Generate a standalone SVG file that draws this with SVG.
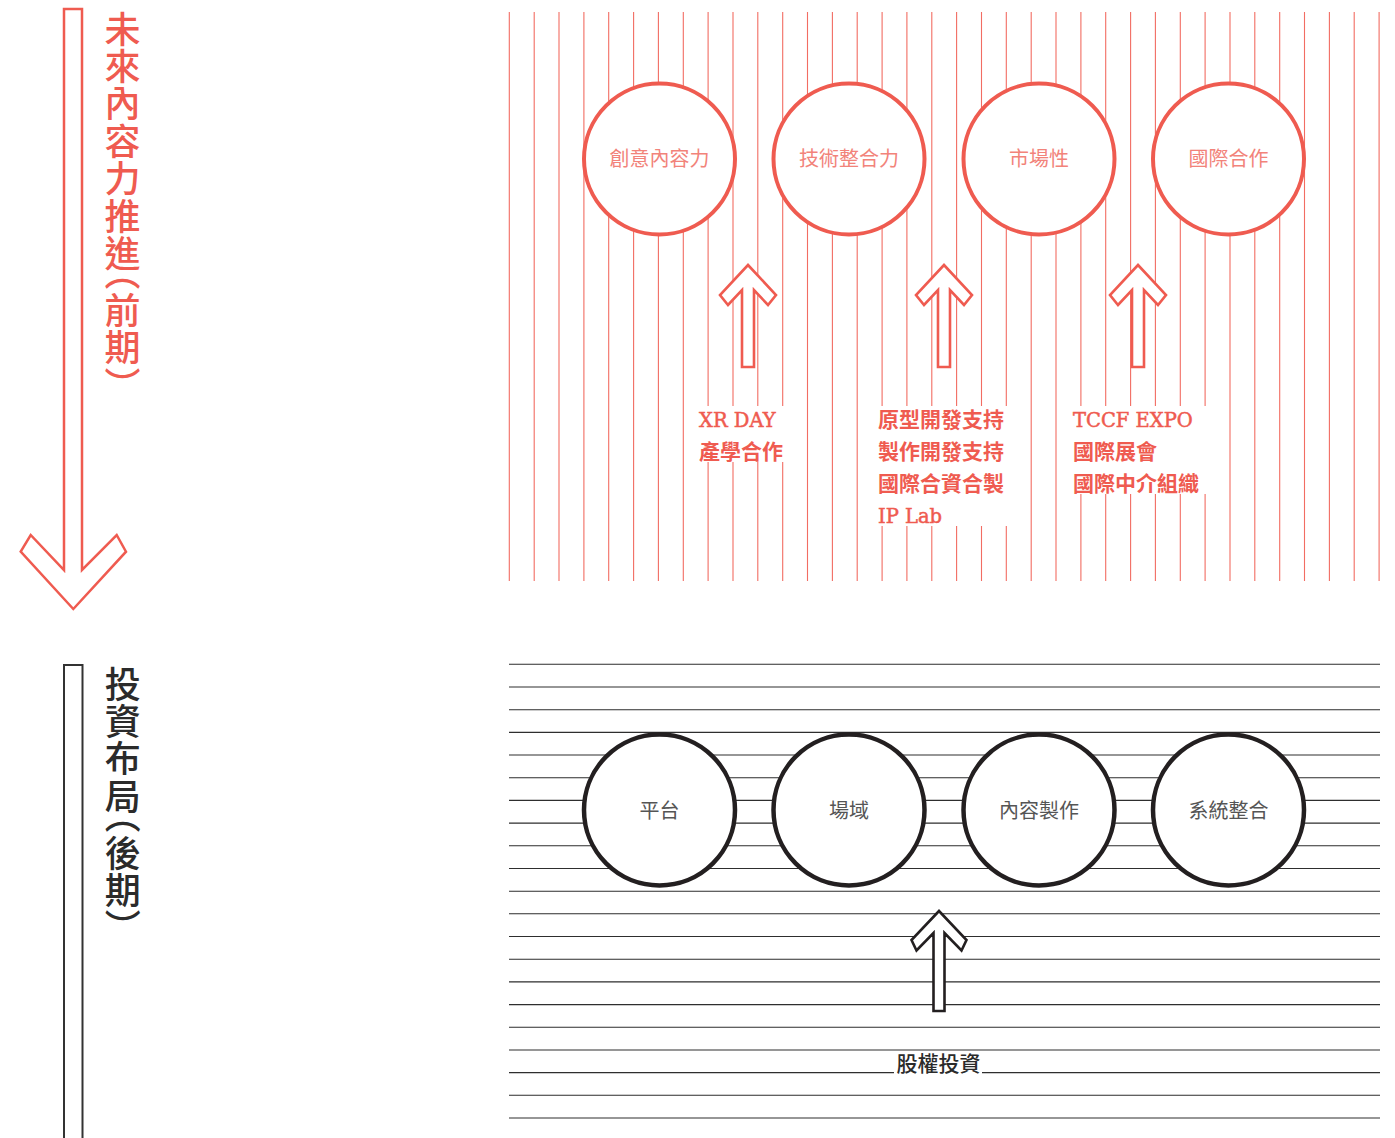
<svg xmlns="http://www.w3.org/2000/svg" xmlns:xlink="http://www.w3.org/1999/xlink" width="1395" height="1138" viewBox="0 0 1395 1138">
<style>
.vl{stroke:#f26d63;stroke-width:1.1;fill:none}
.hl{stroke:#2e2e2e;stroke-width:1.1;fill:none}
.rc{fill:#fff;stroke:#ef5b50;stroke-width:4}
.bc{fill:#fff;stroke:#231f20;stroke-width:4.5}
.rt{font-family:"Noto Sans CJK TC","Noto Sans",sans-serif;font-size:20px;fill:#f2837a;text-anchor:middle}
.bt{font-family:"Noto Sans CJK TC","Noto Sans",sans-serif;font-size:20px;fill:#555;text-anchor:middle}
.lat{font-family:"DejaVu Serif","Noto Sans CJK TC",serif;font-size:19.5px;fill:#ef5b50;stroke:#ef5b50;stroke-width:0.5px}
.zh{font-family:"Noto Sans CJK TC",sans-serif;font-size:21px;font-weight:bold;fill:#ef5b50}
.ra{fill:#fff;stroke:#ef5b50;stroke-width:2.6;stroke-linejoin:miter}
.ba{fill:#fff;stroke:#231f20;stroke-width:2.6;stroke-linejoin:miter}
.vt{font-family:"Noto Sans CJK TC",sans-serif;font-size:36px;font-weight:500;writing-mode:vertical-rl;font-feature-settings:"vhal" 1;letter-spacing:1.4px}
.box{fill:#fff}
</style>
<defs>
<path id="upR" d="M0 0L28 30L20 40L6 25L6 102L-6 102L-6 25L-20 40L-28 30Z"/>
<path id="upB" d="M0 0L27.5 29L22.5 39.5L5.5 22L5.5 100L-5.5 100L-5.5 22L-22.5 39.5L-27.5 29Z"/>
</defs>

<g id="background-lines">
<path class="vl" d="M509.3 12V581M534.2 12V581M559 12V581M583.9 12V581M608.7 12V581M633.6 12V581M658.4 12V581M683.3 12V581M708.1 12V581M733 12V581M757.8 12V581M782.7 12V581M807.5 12V581M832.4 12V581M857.2 12V581M882.1 12V581M906.9 12V581M931.8 12V581M956.6 12V581M981.5 12V581M1006.3 12V581M1031.2 12V581M1056 12V581M1080.9 12V581M1105.7 12V581M1130.6 12V581M1155.4 12V581M1180.3 12V581M1205.1 12V581M1230 12V581M1254.8 12V581M1279.7 12V581M1304.5 12V581M1329.4 12V581M1354.2 12V581M1379.1 12V581"/>
<path class="hl" d="M509 664.3H1380M509 687H1380M509 709.7H1380M509 732.4H1380M509 755H1380M509 777.7H1380M509 800.4H1380M509 823.1H1380M509 845.8H1380M509 868.5H1380M509 891.2H1380M509 913.8H1380M509 936.5H1380M509 959.2H1380M509 981.9H1380M509 1004.6H1380M509 1027.3H1380M509 1050H1380M509 1072.6H1380M509 1095.3H1380M509 1118H1380"/>
</g>

<g id="phase-front">
<polygon points="64,9 82,9 82,570 116.7,535 126,551.7 73.3,609 20.7,551.7 30.7,535 64,570" fill="none" stroke="#ef5b50" stroke-width="2.5"/>
<text class="vt" x="122.5" y="11" fill="#ef5b50">未來內容力推進（前期）</text>
</g>
<g id="phase-back">
<rect x="64" y="665" width="18.5" height="500" fill="none" stroke="#333" stroke-width="2"/>
<text class="vt" x="122.7" y="666" fill="#2b2b2b">投資布局（後期）</text>
</g>

<g id="connectors">
<use href="#upR" xlink:href="#upR" class="ra" x="748" y="265"/>
<use href="#upR" xlink:href="#upR" class="ra" x="944" y="265"/>
<use href="#upR" xlink:href="#upR" class="ra" x="1138" y="265"/>
<use href="#upB" xlink:href="#upB" class="ba" x="939" y="911"/>
</g>

<g id="node-creative"><circle class="rc" cx="659.5" cy="159" r="75.5"/><text class="rt" x="659.5" y="166">創意內容力</text></g>
<g id="node-tech"><circle class="rc" cx="849" cy="159" r="75.5"/><text class="rt" x="849" y="166">技術整合力</text></g>
<g id="node-market"><circle class="rc" cx="1039" cy="159" r="75.5"/><text class="rt" x="1039" y="166">市場性</text></g>
<g id="node-intl"><circle class="rc" cx="1228.5" cy="159" r="75.5"/><text class="rt" x="1228.5" y="166">國際合作</text></g>

<g id="label-xr">
<rect class="box" x="688" y="406" width="101" height="56"/>
<text class="lat" x="699" y="427">XR DAY</text>
<text class="zh" x="699" y="459">產學合作</text>
</g>
<g id="label-dev">
<rect class="box" x="870" y="406" width="140" height="120"/>
<text class="zh" x="878" y="427">原型開發支持</text>
<text class="zh" x="878" y="459">製作開發支持</text>
<text class="zh" x="878" y="491">國際合資合製</text>
<text class="lat" x="878" y="523">IP Lab</text>
</g>
<g id="label-tccf">
<rect class="box" x="1066" y="406" width="143" height="88"/>
<text class="lat" x="1073" y="427">TCCF EXPO</text>
<text class="zh" x="1073" y="459">國際展會</text>
<text class="zh" x="1073" y="491">國際中介組織</text>
</g>

<g id="node-platform"><circle class="bc" cx="659.5" cy="810" r="75.5"/><text class="bt" x="659.5" y="818">平台</text></g>
<g id="node-venue"><circle class="bc" cx="849" cy="810" r="75.5"/><text class="bt" x="849" y="818">場域</text></g>
<g id="node-content"><circle class="bc" cx="1039" cy="810" r="75.5"/><text class="bt" x="1039" y="818">內容製作</text></g>
<g id="node-system"><circle class="bc" cx="1228.5" cy="810" r="75.5"/><text class="bt" x="1228.5" y="818">系統整合</text></g>

<g id="label-equity">
<rect class="box" x="894" y="1053" width="88" height="24"/>
<text x="938.5" y="1071" text-anchor="middle" font-family="Noto Sans CJK TC, sans-serif" font-size="21" font-weight="500" fill="#2b2b2b">股權投資</text>
</g>
</svg>
